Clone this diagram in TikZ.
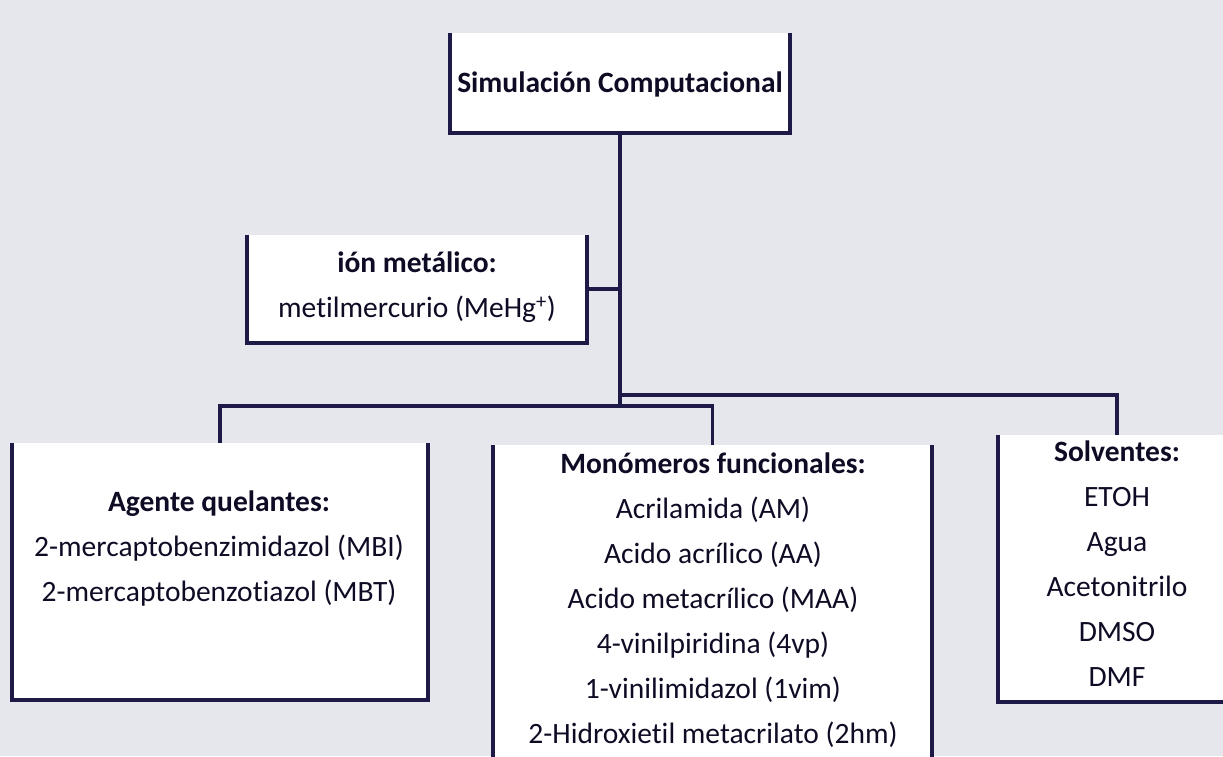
\documentclass[tikz,border=0pt]{standalone}
\usepackage{fontspec}
\setmainfont[Ligatures={NoCommon}]{Carlito}
\definecolor{bg}{RGB}{230,230,237}
\definecolor{ink}{RGB}{14,12,36}
\definecolor{edge}{RGB}{30,26,72}
\begin{document}
\begin{tikzpicture}[x=1pt,y=-1pt,
  box/.style={fill=white, draw=none, rectangle, inner sep=0pt},
  txt/.style={align=center, font=\fontsize{29.5}{45}\selectfont, text=ink, inner sep=0pt},
  rim/.style={draw=edge, line width=3.6pt, line join=miter},
  link/.style={draw=edge, line width=3.4pt}]
\useasboundingbox (0,0) rectangle (1223,756);
\fill[bg] (0,0) rectangle (1223,756);
\clip (0,0) rectangle (1223,756);

% boxes
\node[box, minimum width=340pt, minimum height=100pt] (sim) at (620,83) {};
\node[box, minimum width=340pt, minimum height=108pt] (ion) at (417,289) {};
\node[box, minimum width=416pt, minimum height=257pt] (age) at (220,571.5) {};
\node[box, minimum width=439pt, minimum height=325pt] (mon) at (712.5,607.5) {};
\node[box, minimum width=238pt, minimum height=267pt] (sol) at (1117,568.5) {};

\foreach \b in {sim,ion,age,mon,sol}
  \draw[rim] (\b.north west) -- (\b.south west) -- (\b.south east) -- (\b.north east);

% texts
\node[txt] (simT) at (620,84) {\textbf{Simulación Computacional}};
\node[txt] (ionT) at (417,287) {\textbf{ión metálico:}\\metilmercurio (MeHg\textsuperscript{+})};
\node[txt] (ageT) at (219,549) {\textbf{Agente quelantes:}\\2-mercaptobenzimidazol (MBI)\\2-mercaptobenzotiazol (MBT)};
\node[txt] (monT) at (713,600) {\textbf{Monómeros funcionales:}\\Acrilamida (AM)\\Acido acrílico (AA)\\Acido metacrílico (MAA)\\4-vinilpiridina (4vp)\\1-vinilimidazol (1vim)\\2-Hidroxietil metacrilato (2hm)};
\node[txt] (solT) at (1117,564) {\textbf{Solventes:}\\ETOH\\Agua\\Acetonitrilo\\DMSO\\DMF};

% connectors
\coordinate (jn) at (620,406);
\coordinate (jr) at (620,395);
\draw[link] (sim.south) -- (jn);
\draw[link] (ion.east) -- (ion.east -| jn);
\draw[link] (age.north) |- (jn) -| (mon.north);
\draw[link] (jr) -| (sol.north);
\end{tikzpicture}
\end{document}
